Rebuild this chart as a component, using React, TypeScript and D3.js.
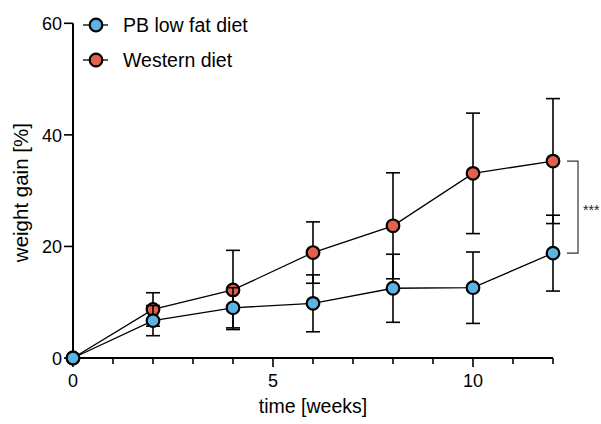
import React, { useEffect, useRef } from "react";
import * as d3 from "d3";

const weeks = [0, 2, 4, 6, 8, 10, 12];
const pbMean = [0, 6.7, 9.0, 9.8, 12.5, 12.6, 18.8];
const pbSd = [0, 2.7, 3.6, 5.1, 6.1, 6.4, 6.8];
const wdMean = [0, 8.7, 12.2, 18.9, 23.7, 33.1, 35.3];
const wdSd = [0, 3.0, 7.1, 5.5, 9.5, 10.8, 11.2];
const seriesNames = ["PB low fat diet", "Western diet"];
const yTicks = [0, 20, 40, 60];
const xMajor = [0, 5, 10];
const signif = "***";

const BLUE = "#5ab4e4";
const RED = "#e5604a";
const FONT = "'Liberation Sans', Arial, Helvetica, sans-serif";

export default function App() {
  const svgRef = useRef<SVGSVGElement>(null);

  useEffect(() => {
    const w = 601;
    const h = 424;
    const svg = d3.select(svgRef.current).attr("width", w).attr("height", h);
    svg.selectAll("*").remove();

    const x = d3.scaleLinear().domain([0, 12]).range([73, 553]);
    const y = d3.scaleLinear().domain([0, 60]).range([358, 23.3]);

    // axes
    const xAxis = svg.append("g").attr("transform", `translate(0,${y(0)})`);
    xAxis
      .append("line")
      .attr("x1", x(0))
      .attr("x2", x(12))
      .attr("stroke", "#000")
      .attr("stroke-width", 2);
    xAxis
      .selectAll(".xt")
      .data(d3.range(0, 13))
      .join("line")
      .attr("x1", (d) => x(d))
      .attr("x2", (d) => x(d))
      .attr("y1", 0)
      .attr("y2", (d) => (xMajor.includes(d) ? 9 : 6))
      .attr("stroke", "#000")
      .attr("stroke-width", 1.6);
    xAxis
      .selectAll(".xl")
      .data(xMajor)
      .join("text")
      .attr("x", (d) => x(d))
      .attr("y", 29)
      .attr("text-anchor", "middle")
      .attr("font-family", FONT)
      .attr("font-size", 18)
      .text((d) => d);

    const yAxis = svg.append("g").attr("transform", `translate(${x(0)},0)`);
    yAxis
      .append("line")
      .attr("y1", y(0))
      .attr("y2", y(60))
      .attr("stroke", "#000")
      .attr("stroke-width", 2);
    yAxis
      .selectAll(".yt")
      .data(yTicks)
      .join("line")
      .attr("x1", 0)
      .attr("x2", -9)
      .attr("y1", (d) => y(d))
      .attr("y2", (d) => y(d))
      .attr("stroke", "#000")
      .attr("stroke-width", 1.6);
    yAxis
      .selectAll(".yl")
      .data(yTicks)
      .join("text")
      .attr("x", -11)
      .attr("y", (d) => y(d) + 7)
      .attr("text-anchor", "end")
      .attr("font-family", FONT)
      .attr("font-size", 18)
      .text((d) => d);

    svg
      .append("text")
      .attr("x", (x(0) + x(12)) / 2)
      .attr("y", 413)
      .attr("text-anchor", "middle")
      .attr("font-family", FONT)
      .attr("font-size", 19.5)
      .text("time [weeks]");
    svg
      .append("text")
      .attr("transform", `translate(27.5,${(y(0) + y(60)) / 2 + 2}) rotate(-90)`)
      .attr("text-anchor", "middle")
      .attr("font-family", FONT)
      .attr("font-size", 20.5)
      .text("weight gain [%]");

    const line = d3
      .line<number>()
      .x((d, i) => x(weeks[i]))
      .y((d) => y(d));

    const drawSeries = (mean: number[], sd: number[], color: string) => {
      const g = svg.append("g");
      const pts = weeks.map((wk, i) => ({ wk, m: mean[i], s: sd[i] })).filter((p) => p.s > 0);
      g.selectAll(".eb")
        .data(pts)
        .join("line")
        .attr("x1", (d) => x(d.wk))
        .attr("x2", (d) => x(d.wk))
        .attr("y1", (d) => y(d.m - d.s))
        .attr("y2", (d) => y(d.m + d.s))
        .attr("stroke", "#000")
        .attr("stroke-width", 1.6);
      pts.forEach((d) => {
        [d.m - d.s, d.m + d.s].forEach((v) => {
          g.append("line")
            .attr("x1", x(d.wk) - 7)
            .attr("x2", x(d.wk) + 7)
            .attr("y1", y(v))
            .attr("y2", y(v))
            .attr("stroke", "#000")
            .attr("stroke-width", 1.6);
        });
      });
      g.append("path")
        .attr("d", line(mean))
        .attr("fill", "none")
        .attr("stroke", "#000")
        .attr("stroke-width", 1.3);
      g.selectAll(".dot")
        .data(mean)
        .join("circle")
        .attr("cx", (d, i) => x(weeks[i]))
        .attr("cy", (d) => y(d))
        .attr("r", 6.3)
        .attr("fill", color)
        .attr("stroke", "#000")
        .attr("stroke-width", 2.2);
    };

    drawSeries(wdMean, wdSd, RED);
    drawSeries(pbMean, pbSd, BLUE);

    // legend
    const legend = svg.append("g");
    [BLUE, RED].forEach((c, i) => {
      const ly = 25 + i * 35;
      legend
        .append("line")
        .attr("x1", 83)
        .attr("x2", 108)
        .attr("y1", ly)
        .attr("y2", ly)
        .attr("stroke", "#000")
        .attr("stroke-width", 1.3);
      legend
        .append("circle")
        .attr("cx", 96)
        .attr("cy", ly)
        .attr("r", 6.3)
        .attr("fill", c)
        .attr("stroke", "#000")
        .attr("stroke-width", 2.2);
      legend
        .append("text")
        .attr("x", 123)
        .attr("y", ly + 7.2)
        .attr("font-family", FONT)
        .attr("font-size", 19.5)
        .text(seriesNames[i]);
    });

    // significance bracket
    const last = weeks.length - 1;
    const bx = x(weeks[last]) + 14;
    const yt = y(wdMean[last]);
    const yb = y(pbMean[last]);
    svg
      .append("path")
      .attr("d", `M${bx},${yt}H${bx + 11}V${yb}H${bx}`)
      .attr("fill", "none")
      .attr("stroke", "#333")
      .attr("stroke-width", 1.2);
    svg
      .append("text")
      .attr("x", bx + 16)
      .attr("y", (yt + yb) / 2 + 8)
      .attr("font-family", FONT)
      .attr("font-size", 14)
      .attr("fill", "#222")
      .text(signif);
  }, []);

  return (
    <div style={{ position: "absolute", left: 0, top: 0 }}>
      <svg ref={svgRef} style={{ display: "block", background: "#fff" }}></svg>
    </div>
  );
}
